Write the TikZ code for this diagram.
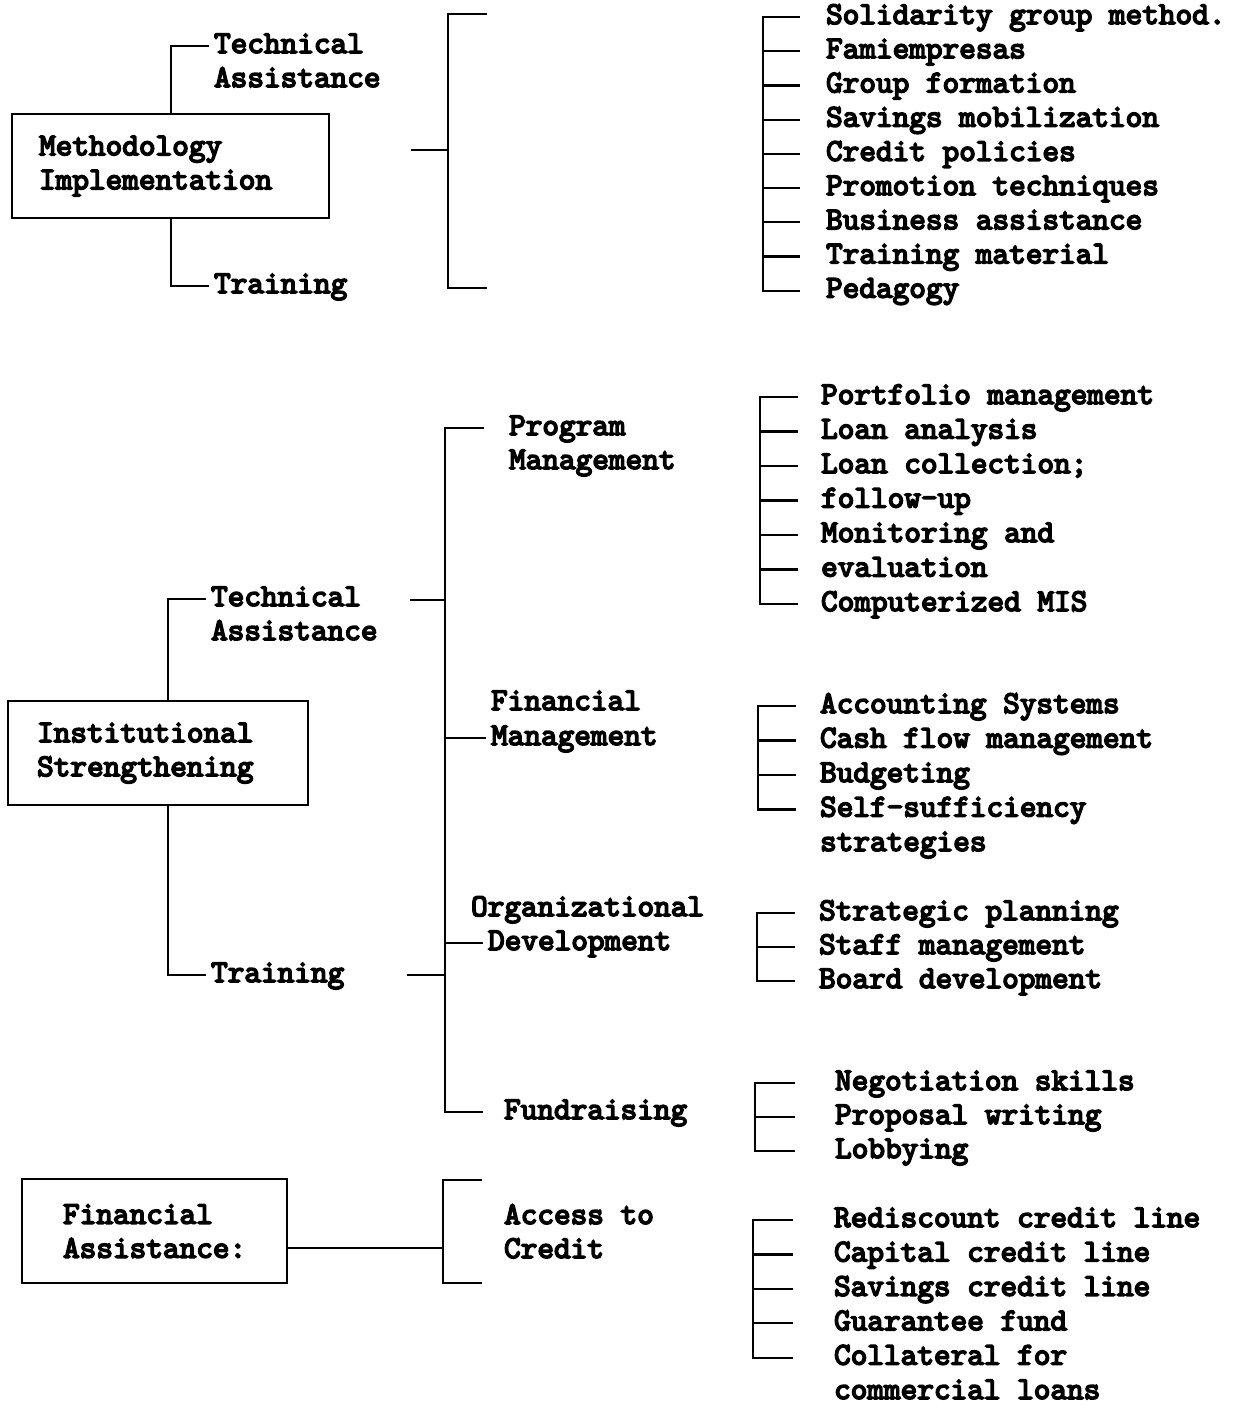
\documentclass[tikz,border=0pt]{standalone}
\usepackage{fontspec}
\setmonofont{lmmono10-regular.otf}[FakeBold=5]
\begin{document}
\begin{tikzpicture}[x=1pt, y=-1pt, line width=2.2pt,
  every node/.style={font=\ttfamily\fontsize{31.7}{34}\selectfont},
  lbl/.style={anchor=west, inner xsep=4pt, inner ysep=0pt, text height=21pt, text depth=7pt},
  box/.style={draw, anchor=north west, align=left, minimum height=104pt, inner ysep=0pt}]
\useasboundingbox (0,0) rectangle (1250,1406);

% methodology implementation
\node[box, inner xsep=27pt, text width=263pt] (meth) at (11,113) {Methodology\\Implementation};
\node[lbl] (mta) at (209,46) {Technical};
\node[lbl] (mtb) at (209,80) {Assistance};
\node[lbl] (mtr) at (209,286) {Training};
\draw (mta.west) -| (meth.north);
\draw (mtr.west) -| (meth.south);

\coordinate (brT) at (448,14);
\coordinate (brB) at (448,288);
\coordinate (brS) at (411,150);
\draw (brT) ++(39,0) -- (brT) -- (brB) -- ++(39,0);
\draw (brS) -- (brS -| brT);

\coordinate (spA) at (763,0);
\foreach \txt [count=\i] in {Solidarity group method., Famiempresas, Group formation,
  Savings mobilization, Credit policies, Promotion techniques, Business assistance,
  Training material, Pedagogy}
  \node[lbl] (sol\i) at (821,{17+34.2*(\i-1)}) {\txt};
\draw (sol1.west -| spA) ++(37,0) -- (sol1.west -| spA) -- (sol9.west -| spA) -- ++(37,0);
\foreach \i in {2,...,8} \draw (sol\i.west -| spA) -- ++(37,0);

% institutional strengthening
\node[box, inner xsep=29pt, text width=242pt] (inst) at (7,700) {Institutional\\Strengthening};
\node[lbl] (ita) at (206,599) {Technical};
\node[lbl] (itb) at (206,633) {Assistance};
\node[lbl] (itr) at (206,975) {Training};
\draw (ita.west) -| ([xshift=10pt]inst.north);
\draw (itr.west) -| ([xshift=10pt]inst.south);

\coordinate (spB) at (445,0);
\coordinate (tsA) at (410,600);
\coordinate (tsB) at (407,975);
\draw (tsA) -- (tsA -| spB);
\draw (tsB) -- (tsB -| spB);

\node[lbl] (pm1) at (504,428) {Program};
\node[lbl] (pm2) at (504,462) {Management};
\node[lbl] (fm1) at (486,703) {Financial};
\node[lbl] (fm2) at (486,738) {Management};
\node[lbl] (od1) at (466,909) {Organizational};
\node[lbl] (od2) at (483,943) {Development};
\node[lbl] (fr) at (499,1112) {Fundraising};
\draw (pm1.west -| spB) ++(39,0) -- (pm1.west -| spB) -- (fr.west -| spB) -- ++(38,0);
\draw (fm2.west -| spB) -- (fm2.west);
\draw (od2.west -| spB) -- (od2.west);

\coordinate (spC) at (760,0);
\foreach \txt [count=\i] in {Portfolio management, Loan analysis, Loan collection;,
  follow-up, Monitoring and, evaluation, Computerized MIS}
  \node[lbl] (prg\i) at (816,{397+34.5*(\i-1)}) {\txt};
\draw (prg1.west -| spC) ++(38,0) -- (prg1.west -| spC) -- (prg7.west -| spC) -- ++(38,0);
\foreach \i in {2,...,6} \draw (prg\i.west -| spC) -- ++(38,0);

\coordinate (spD) at (758,0);
\foreach \txt [count=\i] in {Accounting Systems, Cash flow management, Budgeting,
  Self-sufficiency, strategies}
  \node[lbl] (fin\i) at (815,{706+34.5*(\i-1)}) {\txt};
\draw (fin1.west -| spD) ++(38,0) -- (fin1.west -| spD) -- (fin4.west -| spD) -- ++(38,0);
\foreach \i in {2,3} \draw (fin\i.west -| spD) -- ++(38,0);

\coordinate (spE) at (757,0);
\foreach \txt [count=\i] in {Strategic planning, Staff management, Board development}
  \node[lbl] (org\i) at (814,{913+34*(\i-1)}) {\txt};
\draw (org1.west -| spE) ++(38,0) -- (org1.west -| spE) -- (org3.west -| spE) -- ++(38,0);
\draw (org2.west -| spE) -- ++(38,0);

\coordinate (spF) at (755,0);
\foreach \txt [count=\i] in {Negotiation skills, Proposal writing, Lobbying}
  \node[lbl] (fnd\i) at (830,{1083+34*(\i-1)}) {\txt};
\draw (fnd1.west -| spF) ++(40,0) -- (fnd1.west -| spF) -- (fnd3.west -| spF) -- ++(40,0);
\draw (fnd2.west -| spF) -- ++(40,0);

% financial assistance
\node[box, inner xsep=41pt, text width=183pt] (finas) at (21,1178) {Financial\\Assistance:};
\coordinate (acT) at (443,1180);
\coordinate (acB) at (443,1283);
\coordinate (acS) at (443,1248);
\draw (finas.east |- acS) -- (acS);
\draw (acT) ++(39,0) -- (acT) -- (acB) -- ++(39,0);
\node[lbl] (ac1) at (499,1217) {Access to};
\node[lbl] (ac2) at (499,1251) {Credit};

\coordinate (spG) at (753,0);
\foreach \txt [count=\i] in {Rediscount credit line, Capital credit line, Savings credit line,
  Guarantee fund, Collateral for, commercial loans}
  \node[lbl] (crd\i) at (829,{1220+34.4*(\i-1)}) {\txt};
\draw (crd1.west -| spG) ++(40,0) -- (crd1.west -| spG) -- (crd5.west -| spG) -- ++(40,0);
\foreach \i in {2,3,4} \draw (crd\i.west -| spG) -- ++(40,0);
\end{tikzpicture}
\end{document}
